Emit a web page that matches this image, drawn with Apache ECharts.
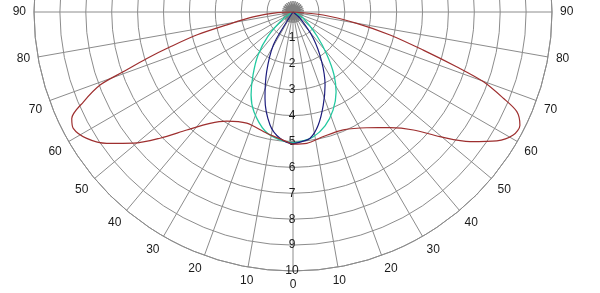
<!DOCTYPE html>
<html>
<head>
<meta charset="utf-8">
<script src="https://cdn.jsdelivr.net/npm/echarts@6/dist/echarts.min.js"></script>
<style>
html,body{margin:0;padding:0;background:#fff;}
#chart{width:600px;height:293px;}
</style>
</head>
<body>
<div id="chart"></div>
<script>
// Angle ticks (degrees from nadir) and radial tick labels
const angleTicks = [0, 10, 20, 30, 40, 50, 60, 70, 80, 90];
const radialLabels = ['', '1', '2', '3', '4', '5', '6', '7', '8', '9', '10'];

// Curves: signed angle (negative = left side), radius value
const redAngles = [-90, -88, -83, -79, -76.6, -74.2, -72.4, -70.6, -69.3, -66.8, -64.3, -62.1, -58.5, -54.8, -50.6, -46.5, -42, -36.7, -31.3, -22.6, -12.2, -2.8, 0, 6, 13.7, 23.1, 32.5, 40, 45.6, 49.7, 53.8, 57.7, 60.8, 63.5, 66, 67.7, 69.9, 71.5, 73.7, 76.7, 79.9, 84.3, 90];
const redValues = [0, 0.6, 1.55, 2.6, 3.8, 4.9, 5.9, 6.95, 7.95, 8.8, 9.48, 9.6, 9.34, 8.8, 7.98, 7.08, 6.13, 5.36, 4.93, 4.65, 4.79, 5.01, 5.1, 5.1, 4.95, 4.95, 5.3, 5.83, 6.51, 7.44, 8.47, 9.31, 9.74, 9.79, 9.46, 8.78, 7.82, 6.66, 5.24, 3.85, 2.5, 1.17, 0];

const blueAngles = [-40, -33, -30.8, -23.8, -18, -11.5, -5.9, 0, 3.1, 7.7, 12.6, 18, 23.7, 30, 37.7, 48, 50];
const blueValues = [0, 0.45, 1.48, 2.52, 3.5, 4.45, 4.9, 5.08, 5.03, 4.92, 4.47, 3.78, 3.08, 2.22, 1.28, 0.36, 0];

const tealAngles = [-60, -56, -46, -39.1, -32.4, -26.8, -21.3, -13.2, -6.7, 0, 3.1, 9.1, 15.7, 22.2, 28.3, 33.1, 38.3, 45, 59, 60];
const tealValues = [0, 0.42, 1.34, 2.14, 2.88, 3.59, 4.14, 4.72, 4.94, 5.04, 5.01, 4.89, 4.57, 4.09, 3.51, 2.9, 2.12, 1.31, 0.45, 0];

const gridColor = '#8c8c8c';
const toAxis = a => (a <= 0 ? -a : 360 - a);
const build = (angs, vals) => angs.map((a, i) => [vals[i], toAxis(a)]);

const spokeColors = [];
for (let i = 0; i < 36; i++) {
  const v = i * 10;
  spokeColors.push((v <= 90 || v >= 270) ? gridColor : 'rgba(0,0,0,0)');
}

const chart = echarts.init(document.getElementById('chart'), null, {renderer: 'canvas'});
const option = {
  animation: false,
  backgroundColor: '#ffffff',
  textStyle: {fontFamily: 'Liberation Sans, Arial, sans-serif'},
  polar: [
    {center: [293, 12], radius: 259},
    {center: [293, 12], radius: 11}
  ],
  angleAxis: [
    {
      polarIndex: 0, type: 'value', min: 0, max: 360, interval: 10,
      startAngle: 270, clockwise: true,
      axisLine: {show: true, lineStyle: {color: gridColor, width: 1}},
      axisTick: {show: false},
      axisLabel: {
        show: true, margin: 8, color: '#1a1a1a', fontSize: 12,
        fontFamily: 'Liberation Sans, Arial, sans-serif',
        formatter: v => {
          if (v <= 90) return angleTicks.indexOf(v) >= 0 ? String(v) : '';
          if (v >= 270 && v < 360) return angleTicks.indexOf(360 - v) >= 0 ? String(360 - v) : '';
          return '';
        }
      },
      splitLine: {show: true, lineStyle: {color: spokeColors, width: 1}}
    },
    {
      polarIndex: 1, type: 'value', min: 0, max: 360, interval: 12,
      startAngle: 270,
      axisLine: {show: false}, axisTick: {show: false}, axisLabel: {show: false},
      splitLine: {show: true, lineStyle: {color: '#808080', width: 1.5}}
    }
  ],
  radiusAxis: [
    {
      polarIndex: 0, type: 'value', min: 0, max: 10, interval: 1,
      axisLine: {show: false}, axisTick: {show: false},
      axisLabel: {
        show: true, color: '#1a1a1a', fontSize: 12, margin: -1, align: 'center',
        fontFamily: 'Liberation Sans, Arial, sans-serif',
        formatter: v => radialLabels[Math.round(v)] || ''
      },
      splitLine: {show: true, lineStyle: {color: gridColor, width: 1}}
    },
    {
      polarIndex: 1, type: 'value', min: 0, max: 1,
      axisLine: {show: false}, axisTick: {show: false}, axisLabel: {show: false},
      splitLine: {show: false}
    }
  ],
  series: [
    {type: 'line', coordinateSystem: 'polar', polarIndex: 0, data: build(tealAngles, tealValues),
     smooth: 0.3, symbol: 'none', lineStyle: {color: '#22c9a0', width: 1.3}},
    {type: 'line', coordinateSystem: 'polar', polarIndex: 0, data: build(blueAngles, blueValues),
     smooth: 0.3, symbol: 'none', lineStyle: {color: '#1c1c7c', width: 1.2}},
    {type: 'line', coordinateSystem: 'polar', polarIndex: 0, data: build(redAngles, redValues),
     smooth: 0.3, symbol: 'none', lineStyle: {color: '#9e2f2f', width: 1.2}}
  ]
};
chart.setOption(option);
</script>
</body>
</html>
